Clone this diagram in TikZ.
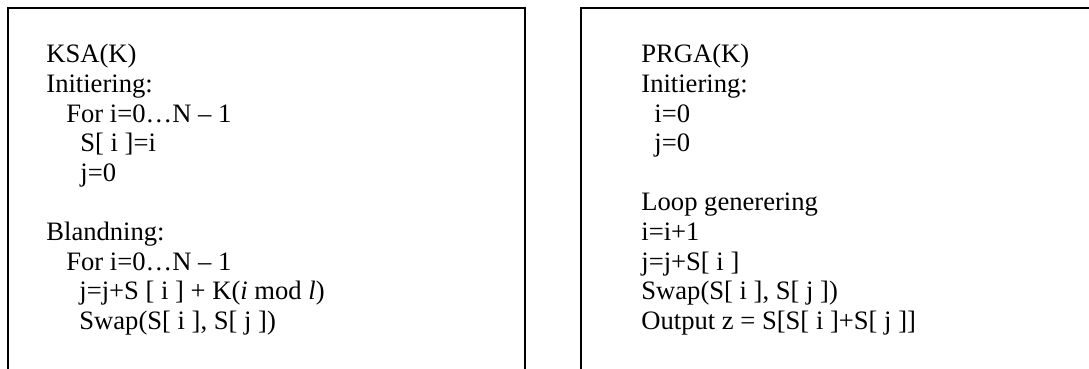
\documentclass[tikz,border=0pt]{standalone}
\usepackage{fontspec}
\setmainfont{Liberation Serif}
\begin{document}
\begin{tikzpicture}[x=0.5pt,y=-0.5pt,
  txt/.style={anchor=base west, inner sep=0pt, font=\fontsize{13.3}{15}\selectfont},
  frame/.style={line width=1pt, line join=miter}]
\useasboundingbox (0,0) rectangle (1089,369);
% open-bottomed frames
\coordinate (lbl) at (8,372);
\coordinate (ltl) at (8,8);
\coordinate (ltr) at (525,8);
\coordinate (lbr) at (525,372);
\coordinate (rbl) at (581,372);
\coordinate (rtl) at (581,8);
\coordinate (rtr) at (1092,8);
\draw[frame] (lbl) -- (ltl) -- (ltr) -- (lbr);
\draw[frame] (rbl) -- (rtl) -- (rtr);
% left box text
\node[txt] (l1)  at (46,63)    {KSA(K)};
\node[txt] (l2)  at (46,92.6)  {Initiering:};
\node[txt] (l3)  at (66,122.2) {For i=0…N – 1};
\node[txt] (l4)  at (80,151.8) {S[ i ]=i};
\node[txt] (l5)  at (80,181.4) {j=0};
\node[txt] (l7)  at (46,240.6) {Blandning:};
\node[txt] (l8)  at (66,270.2) {For i=0…N – 1};
\node[txt] (l9)  at (79,299.8) {j=j+S [ i ] + K(\textit{i} mod \textit{l})};
\node[txt] (l10) at (79,329.4) {Swap(S[ i ], S[ j ])};
% right box text
\node[txt] (r1)  at (641,63)    {PRGA(K)};
\node[txt] (r2)  at (641,92.6)  {Initiering:};
\node[txt] (r3)  at (654,122.2) {i=0};
\node[txt] (r4)  at (654,151.8) {j=0};
\node[txt] (r6)  at (641,211)   {Loop generering};
\node[txt] (r7)  at (641,240.6) {i=i+1};
\node[txt] (r8)  at (641,270.2) {j=j+S[ i ]};
\node[txt] (r9)  at (641,299.8) {Swap(S[ i ], S[ j ])};
\node[txt] (r10) at (641,329.4) {Output z = S[S[ i ]+S[ j ]]};
\end{tikzpicture}
\end{document}
